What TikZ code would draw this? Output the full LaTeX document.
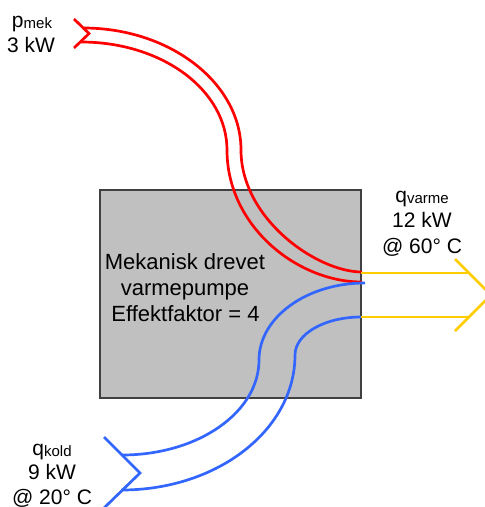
\documentclass[tikz,border=0pt]{standalone}
\usepackage{fontspec}
\setmainfont{Liberation Sans}
\definecolor{boxgray}{HTML}{C0C0C0}
\definecolor{edgegray}{HTML}{404040}
\definecolor{flowred}{HTML}{FF0000}
\definecolor{flowblue}{HTML}{3366FF}
\definecolor{flowyellow}{HTML}{FFCC00}
\begin{document}
\begin{tikzpicture}[x=1pt,y=-1pt,
  redflow/.style={draw=flowred,line width=2.7pt},
  blueflow/.style={draw=flowblue,line width=2.7pt},
  yellowflow/.style={draw=flowyellow,line width=2.7pt},
  lbl/.style={anchor=base,inner sep=0pt,font=\fontsize{21}{25}\selectfont},
  boxtxt/.style={anchor=base,inner sep=0pt,font=\fontsize{22}{26}\selectfont},
  pump/.style={fill=boxgray,draw=edgegray,line width=1.3pt}]
\useasboundingbox (0,0) rectangle (485,507);
\clip (0,0) rectangle (485,507);
% heat pump box
\path[pump] (100,190) rectangle (361,398);
% red (mechanical work) band
\coordinate (r1) at (83.5,28);
\coordinate (r2) at (81,42);
\coordinate (r1e) at (362,272);
\coordinate (r2e) at (362,282);
\draw[redflow] (r1) .. controls (170,28) and (241,83) .. (241,150)
  .. controls (241,219) and (317,272) .. (r1e);
\draw[redflow] (r2) .. controls (162.5,42) and (227,90.4) .. (227,150)
  .. controls (227,226) and (297,282) .. (r2e);
\draw[redflow,line join=miter] (74,19) -- (89,33.5) -- (74,48);
% blue (cold) band
\coordinate (b1) at (365,283);
\coordinate (b2) at (361,317);
\coordinate (b1e) at (122,455);
\coordinate (b2e) at (121.5,490);
\draw[blueflow] (b1) .. controls (306.5,283) and (259,317.5) .. (259,360)
  .. controls (259,412.4) and (198,455) .. (b1e);
\draw[blueflow] (b2) .. controls (324.6,317) and (295,334) .. (295,355)
  .. controls (295,429.5) and (218,490) .. (b2e);
\draw[blueflow,line join=miter] (104,437) -- (140,473) -- (104,508);
% yellow (heat out) band
\coordinate (y1) at (361,273);
\coordinate (y2) at (361,317);
\coordinate (y1e) at (469,273);
\coordinate (y2e) at (469,317);
\draw[yellowflow] (y1) -- (y1e);
\draw[yellowflow] (y2) -- (y2e);
\draw[yellowflow,line join=miter] (455,259) -- (491,295) -- (455,331);
% texts
\node[boxtxt] (t1) at (185,269) {Mekanisk drevet};
\node[boxtxt] (t2) at (185,295) {varmepumpe};
\node[boxtxt] (t3) at (185.5,321.5) {Effektfaktor = 4};
\node[lbl] (p1) at (32,27) {p\raisebox{-1.5pt}{\fontsize{15}{15}\selectfont mek}};
\node[lbl] (p2) at (31,52) {3 kW};
\node[lbl] (v1) at (422,202) {q\raisebox{-1.5pt}{\fontsize{15}{15}\selectfont varme}};
\node[lbl] (v2) at (422,227.5) {12 kW};
\node[lbl] (v3) at (422,253) {@ 60° C};
\node[lbl] (k1) at (52,455) {q\raisebox{-1.5pt}{\fontsize{15}{15}\selectfont kold}};
\node[lbl] (k2) at (52,479.5) {9 kW};
\node[lbl] (k3) at (52,504) {@ 20° C};
\end{tikzpicture}
\end{document}
